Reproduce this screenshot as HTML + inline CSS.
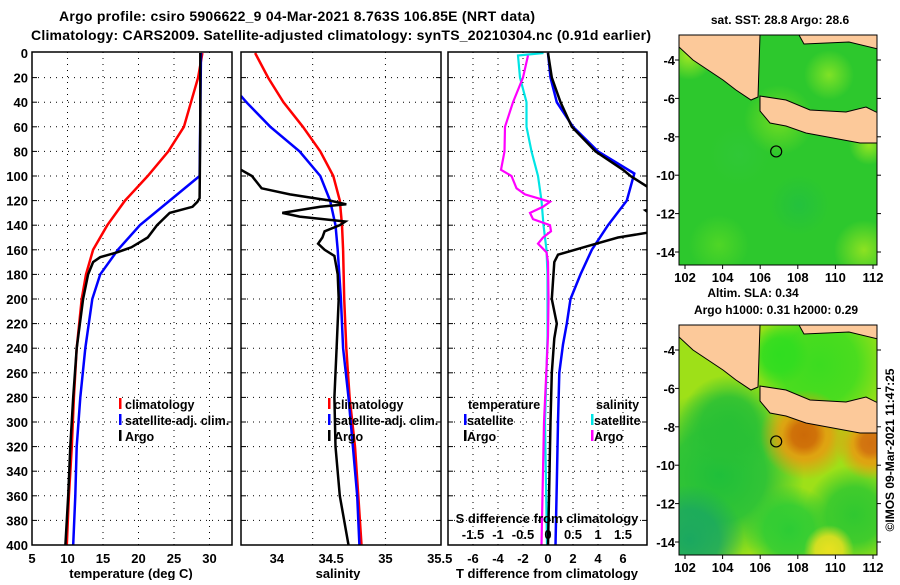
<!DOCTYPE html>
<html><head><meta charset="utf-8">
<style>
html,body{margin:0;padding:0;background:#fff;}
svg text{font-family:"Liberation Sans",Arial,sans-serif;font-weight:bold;fill:#000;}
</style></head>
<body>
<svg id="chart" width="900" height="580" viewBox="0 0 900 580" xmlns="http://www.w3.org/2000/svg">
<text x="297" y="21" font-size="14" text-anchor="middle" textLength="476">Argo profile: csiro 5906622_9 04-Mar-2021 8.763S 106.85E (NRT data)</text>
<text x="341" y="40" font-size="14" text-anchor="middle" textLength="620">Climatology: CARS2009. Satellite-adjusted climatology: synTS_20210304.nc (0.91d earlier)</text>
<g id="plots"></g>
<g id="maps"></g>
</svg>
<script>
// ---------- data ----------
const depthTicks = [0,20,40,60,80,100,120,140,160,180,200,220,240,260,280,300,320,340,360,380,400];
const tempTicks = [5,10,15,20,25,30];
const salTicks = [34,34.5,35,35.5];
const tdiffTicks = [-6,-4,-2,0,2,4,6];
const sdiffTicks = [-1.5,-1,-0.5,0,0.5,1,1.5];

const tClimDepth = [0,20,40,60,80,100,120,140,160,180,200,240,280,320,360,400];
const tClimVal   = [29.0,28.4,27.4,26.4,24.2,21.3,18.1,15.6,13.6,12.6,12.0,11.3,10.9,10.6,10.2,9.9];
const tSatDepth  = [0,50,100,120,140,160,180,200,240,280,320,360,400];
const tSatVal    = [28.8,28.7,28.6,24.4,20.2,17.1,14.6,13.5,12.5,11.8,11.3,11.1,10.8];
const tArgoDepth = [0,60,118,121,125,130,140,150,158,162,166,170,180,200,240,280,320,360,400];
const tArgoVal   = [28.7,28.7,28.6,28.3,27.6,24.4,22.6,21.3,19.0,17.0,14.6,13.6,12.9,12.2,11.3,10.8,10.4,10.1,9.7];

const sClimDepth = [0,20,40,60,80,100,120,140,160,200,240,280,320,360,400];
const sClimVal   = [33.80,33.92,34.06,34.24,34.40,34.52,34.58,34.60,34.61,34.62,34.64,34.67,34.72,34.75,34.78];
const sSatDepth  = [35,40,60,80,100,120,140,160,200,240,280,320,360,400];
const sSatVal    = [33.67,33.72,33.94,34.21,34.40,34.49,34.54,34.56,34.59,34.61,34.66,34.70,34.74,34.76];
const sArgoDepth = [95,100,110,115,120,123,125,130,133,137,140,145,150,155,160,165,180,200,240,280,320,360,400];
const sArgoVal   = [33.67,33.77,33.86,34.12,34.49,34.64,34.40,34.05,34.21,34.63,34.58,34.44,34.42,34.38,34.44,34.53,34.56,34.57,34.55,34.53,34.54,34.58,34.66];

const dTSatDepth = [0,20,40,60,80,98,120,140,160,180,200,220,237,260,300,350,400];
const dTSatVal   = [0,0.2,0.7,2.0,4.0,6.9,6.3,4.8,3.5,2.6,1.8,1.5,1.2,0.9,0.8,0.7,0.6];
const dTArgoDepth= [0,20,40,60,80,95,100,109,115,125,128,131,140,146,150,156,164,170,200,220,232,260,300,350,400];
const dTArgoVal  = [0,0.3,1.0,1.9,3.8,6.0,6.6,8.0,9.5,9.0,7.8,8.2,9.5,8.0,5.6,3.5,0.8,0.5,0.3,0.7,0.5,0.3,0.2,0.1,0.0];
const dSSatDepth = [0,2,20,40,60,80,100,120,140,160,180,230,300,400];
const dSSatVal   = [-0.09,-0.6,-0.56,-0.43,-0.43,-0.33,-0.2,-0.13,-0.09,-0.03,-0.01,-0.01,-0.06,-0.02];
const dSArgoDepth= [2,20,40,60,80,95,100,110,115,121,125,130,135,140,145,150,155,162,170,200,230,300,400];
const dSArgoVal  = [-0.4,-0.5,-0.7,-0.86,-0.87,-0.94,-0.73,-0.63,-0.46,0.04,-0.1,-0.36,-0.3,0.04,0.06,-0.1,-0.2,-0.03,0,0.01,0,-0.08,-0.13];

// ---------- helpers ----------
const NS="http://www.w3.org/2000/svg";
function mk(tag,attrs,parent){const e=document.createElementNS(NS,tag);for(const k in attrs)e.setAttribute(k,attrs[k]);parent.appendChild(e);return e;}
const TOP=52,BOT=545;
function yD(d){return 53+d*1.23;}
const panels=[
 {x0:32,x1:232,sx:v=>32+(v-5)*7.1,name:'temperature-panel'},
 {x0:241,x1:441,sx:v=>241+(v-33.67)*108.6,name:'salinity-panel'},
 {x0:448,x1:647,sx:v=>548+v*12.5,name:'difference-panel'}
];
const sxS=v=>548+v*50;
const plots=document.getElementById('plots');

function frame(p,gridVals,gridFn){
  const g=mk('g',{},plots);
  
  
  depthTicks.forEach(d=>{ if(d>0&&d<400){const l=mk('line',{x1:p.x0,x2:p.x1,y1:yD(d),y2:yD(d),stroke:'#000','stroke-width':1,'stroke-dasharray':'1,5'},g);
    
    mk('line',{x1:p.x1-5,x2:p.x1,y1:yD(d),y2:yD(d),stroke:'#000'},g);mk('line',{x1:p.x0,x2:p.x0+5,y1:yD(d),y2:yD(d),stroke:'#000'},g);}});
  gridVals.forEach(v=>{const x=gridFn(v);if(x>p.x0+2&&x<p.x1-2){const l=mk('line',{x1:x,x2:x,y1:TOP,y2:BOT,stroke:'#000','stroke-width':1,'stroke-dasharray':'1,5'},g);
    }});
  return g;
}
function line(g,p,depths,vals,fn,color,name,w){
  const pts=depths.map((d,i)=>fn(vals[i]).toFixed(1)+','+yD(d).toFixed(1)).join(' ');
  const l=mk('polyline',{points:pts,fill:'none',stroke:color,'stroke-width':w||2.5,'clip-path':'url(#clip'+p.name+')'},g);
  
  
}
const defs=mk('defs',{},plots);
panels.forEach(p=>{const c=mk('clipPath',{id:'clip'+p.name},defs);mk('rect',{x:p.x0,y:TOP,width:p.x1-p.x0,height:BOT-TOP},c);});
function border(g,p){const r=mk('rect',{x:p.x0,y:TOP,width:p.x1-p.x0,height:BOT-TOP,fill:'none',stroke:'#000','stroke-width':1.5},g);
  }
function txt(g,x,y,s,name,anchor,size){const t=mk('text',{x:x,y:y,'font-size':size||13,'text-anchor':anchor||'start'},g);t.textContent=s;
  return t;}
function legBar(g,x,y,color){const b=mk('rect',{x:x,y:y-11,width:2.5,height:11,fill:color},g);}

// y tick labels
depthTicks.forEach(d=>txt(plots,28,yD(d)+5,String(d),'y-tick-label','end',13));

// panel 1
{const p=panels[0];const g=frame(p,[10,15,20,25,30],p.sx);
 line(g,p,tClimDepth,tClimVal,p.sx,'#ff0000','temp-climatology-line');
 line(g,p,tSatDepth,tSatVal,p.sx,'#0000ff','temp-satellite-line');
 line(g,p,tArgoDepth,tArgoVal,p.sx,'#000000','temp-argo-line');
 border(g,p);
 tempTicks.forEach(v=>txt(g,p.sx(v),563,String(v),'x-tick-label','middle'));
 txt(g,131,578,'temperature (deg C)','x-axis-title','middle');
 [['climatology','#f00'],['satellite-adj. clim.','#00f'],['Argo','#000']].forEach((e,i)=>{legBar(g,119,409+16*i,e[1]);txt(g,125,409+16*i,e[0],'legend-entry','start',12.5);});
}
// panel 2
{const p=panels[1];const g=frame(p,[34.33,35.0],p.sx);
 line(g,p,sClimDepth,sClimVal,p.sx,'#ff0000','sal-climatology-line');
 line(g,p,sSatDepth,sSatVal,p.sx,'#0000ff','sal-satellite-line');
 line(g,p,sArgoDepth,sArgoVal,p.sx,'#000000','sal-argo-line');
 border(g,p);
 salTicks.forEach(v=>txt(g,Math.min(p.sx(v),440),563,String(v),'x-tick-label','middle'));
 txt(g,338,578,'salinity','x-axis-title','middle');
 [['climatology','#f00'],['satellite-adj. clim.','#00f'],['Argo','#000']].forEach((e,i)=>{legBar(g,328,409+16*i,e[1]);txt(g,334,409+16*i,e[0],'legend-entry','start',12.5);});
}
// panel 3
{const p=panels[2];const g=frame(p,tdiffTicks,p.sx);
 line(g,p,dSSatDepth,dSSatVal,sxS,'#00e5e5','sdiff-satellite-line',2.2);
 line(g,p,dSArgoDepth,dSArgoVal,sxS,'#ff00ff','sdiff-argo-line',2.2);
 line(g,p,dTSatDepth,dTSatVal,p.sx,'#0000ff','tdiff-satellite-line');
 line(g,p,dTArgoDepth,dTArgoVal,p.sx,'#000000','tdiff-argo-line');
 border(g,p);
 tdiffTicks.forEach(v=>txt(g,p.sx(v),563,String(v),'x-tick-label','middle'));
 sdiffTicks.forEach(v=>txt(g,sxS(v),539,String(v),'s-tick-label','middle'));
 txt(g,547,523,'S difference from climatology','s-axis-title','middle');
 txt(g,547,578,'T difference from climatology','x-axis-title','middle');
 txt(g,468,409,'temperature','legend-title','start',12.5);
 txt(g,596,409,'salinity','legend-title','start',12.5);
 legBar(g,464,425,'#00f');txt(g,467,425,'satellite','legend-entry','start',12.5);
 legBar(g,464,441,'#000');txt(g,467,441,'Argo','legend-entry','start',12.5);
 legBar(g,591,425,'#00e5e5');txt(g,594,425,'satellite','legend-entry','start',12.5);
 legBar(g,591,441,'#f0f');txt(g,594,441,'Argo','legend-entry','start',12.5);
}

// ---------- maps ----------
const lonTicks=[102,104,106,108,110,112];
const latTicks=[-4,-6,-8,-10,-12,-14];
const floatLon=106.85, floatLat=-8.763;
const maps=document.getElementById('maps');
function drawMap(top,kind){
  const L=679,W=198,H=230;
  const g=mk('g',{},maps);
  
  
  const lx=v=>L+6+(v-102)*18.8, ly=v=>top+25+(-4-v)*19.2;
  const cid='mclip'+kind;const c=mk('clipPath',{id:cid},g);mk('rect',{x:L,y:top,width:W,height:H},c);
  const inner=mk('g',{'clip-path':'url(#'+cid+')'},g);
  const dd=mk('defs',{},g);
  if(kind==='sst'){
    mk('rect',{x:L,y:top,width:W,height:H,fill:'#2dc82d'},inner);
    const blobs=[[10,20,25,'#b8ee20'],[100,85,35,'#7ee020'],[185,215,30,'#9ee620'],[150,40,25,'#8ee625'],[190,110,20,'#a8ea20'],[40,210,30,'#55d825'],[120,170,30,'#22c040'],[60,120,30,'#30c838']];
    blobs.forEach((b,i)=>{const rg=mk('radialGradient',{id:'sb'+i},dd);mk('stop',{offset:'0','stop-color':b[3],'stop-opacity':0.85},rg);mk('stop',{offset:'1','stop-color':b[3],'stop-opacity':0},rg);
      mk('circle',{cx:L+b[0],cy:top+b[1],r:b[2],fill:'url(#sb'+i+')'},inner);});
  } else {
    mk('rect',{x:L,y:top,width:W,height:H,fill:'#9ee018'},inner);
    const blobs=[[40,150,85,'#1fbf3a'],[10,215,55,'#1aa860'],[50,100,50,'#28c035'],[110,205,45,'#2ccc35'],[175,190,50,'#30c830'],[140,40,70,'#3cdc20'],[100,30,30,'#30dd20'],[126,110,45,'#e89a10'],[192,120,35,'#e89a10'],[125,110,22,'#cc6a08'],[192,118,18,'#d07010'],[150,225,25,'#e8e020']];
    blobs.forEach((b,i)=>{const rg=mk('radialGradient',{id:'lb'+i},dd);mk('stop',{offset:'0','stop-color':b[3],'stop-opacity':1},rg);mk('stop',{offset:'0.55','stop-color':b[3],'stop-opacity':0.85},rg);mk('stop',{offset:'1','stop-color':b[3],'stop-opacity':0},rg);
      mk('circle',{cx:L+b[0],cy:top+b[1],r:b[2],fill:'url(#lb'+i+')'},inner);});
  }
  const land=[
   [[0,0],[81,0],[79,62],[72,65],[57,55],[44,45],[14,25],[0,12]],
   [[81,61],[107,65],[131,75],[167,77],[187,72],[199,78],[199,108],[181,108],[154,103],[127,98],[107,91],[91,88],[81,76]],
   [[81,0],[199,0],[199,14],[170,7],[125,9],[120,0]]
  ];
  land.forEach(poly=>{const pg=mk('polygon',{points:poly.map(p=>(L+p[0])+','+(top+p[1])).join(' '),fill:'#fcc99a',stroke:'#000','stroke-width':1},inner);
    });
  const m=mk('circle',{cx:lx(floatLon),cy:ly(floatLat),r:5.5,fill:'none',stroke:'#000','stroke-width':1.2},g);
  
  mk('rect',{x:L,y:top,width:W,height:H,fill:'none',stroke:'#000','stroke-width':1},g);
  lonTicks.forEach(v=>{mk('line',{x1:lx(v),x2:lx(v),y1:top+H,y2:top+H+4,stroke:'#000'},g);txt(g,lx(v),top+H+17,String(v),'lon-tick-label','middle',13);});
  latTicks.forEach(v=>{mk('line',{x1:L-4,x2:L,y1:ly(v),y2:ly(v),stroke:'#000'},g);mk('line',{x1:L+W,x2:L+W+4,y1:ly(v),y2:ly(v),stroke:'#000'},g);
    txt(g,L-4,ly(v)+5,String(v),'lat-tick-label','end',13);});
}
drawMap(35,'sst');
drawMap(325,'sla');
txt(maps,780,24,'sat. SST: 28.8 Argo: 28.6','sst-map-title','middle',12);
txt(maps,753,297,'Altim. SLA: 0.34','sla-map-title','middle',12);
txt(maps,776,314,'Argo h1000: 0.31 h2000: 0.29','argo-height-label','middle',12);
const cr=txt(maps,0,0,'©IMOS 09-Mar-2021 11:47:25','imos-credit','middle',12);
cr.setAttribute('font-weight','normal');cr.setAttribute('transform','translate(894,450) rotate(-90)');
</script>
</body></html>
